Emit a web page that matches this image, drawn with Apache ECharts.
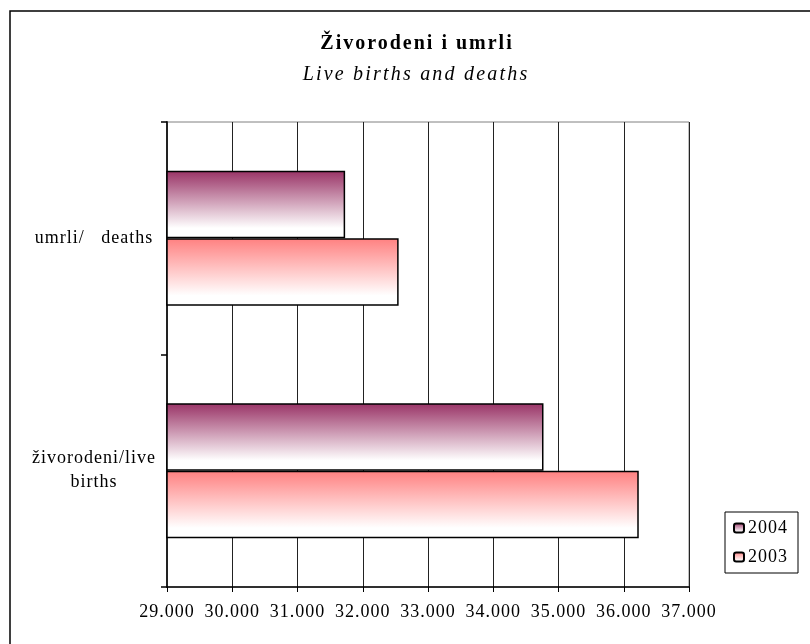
<!DOCTYPE html>
<html>
<head>
<meta charset="utf-8">
<script src="https://cdn.jsdelivr.net/npm/echarts@6/dist/echarts.min.js"></script>
<style>html,body{margin:0;padding:0;background:#fff}#c{width:810px;height:644px}</style>
</head>
<body>
<div id="c"></div>
<script>
const categories = ['živorodeni/live\nbirths', 'umrli/   deaths'];
const values2003 = [36230, 32550];
const values2004 = [34770, 31730];
const xTicksMin = 29000, xTicksMax = 37000, xTickStep = 1000;
const titleText = 'Živorodeni i umrli';
const subtitleText = 'Live births and deaths';

// letter spacing as in the reference typography
(function () {
  const proto = CanvasRenderingContext2D.prototype;
  const orig = proto.fillText;
  proto.fillText = function (t, x, y, w) {
    const f = this.font || '';
    let ls = '1px';
    if (/bold/.test(f)) ls = '2px';
    else if (/italic/.test(f)) ls = '2.2px';
    try { this.letterSpacing = ls; } catch (e) {}
    return w === undefined ? orig.call(this, t, x, y) : orig.call(this, t, x, y, w);
  };
})();

const FONT = 'Liberation Serif';
const chart = echarts.init(document.getElementById('c'));
const grad = (c) => new echarts.graphic.LinearGradient(0, 0, 0, 1, [
  { offset: 0, color: c }, { offset: 0.85, color: '#ffffff' }, { offset: 1, color: '#ffffff' }
]);
chart.setOption({
  backgroundColor: '#fff',
  animation: false,
  graphic: [
    { type: 'rect', shape: { x: 10, y: 11, width: 900, height: 900 }, style: { fill: 'none', stroke: '#000', lineWidth: 1.5 }, silent: true },
    { type: 'text', style: { text: titleText, x: 417, y: 44, textAlign: 'center', textVerticalAlign: 'middle', font: 'bold 20px "Liberation Serif"', fill: '#000' } },
    { type: 'text', style: { text: subtitleText, x: 416, y: 75, textAlign: 'center', textVerticalAlign: 'middle', font: 'italic 20px "Liberation Serif"', fill: '#000' } }
  ],
  grid: { left: 167, right: 121, top: 122, bottom: 57, show: true, borderColor: '#808080', borderWidth: 1 },
  legend: {
    data: ['2004', '2003'], orient: 'vertical', left: 725, top: 512,
    borderColor: '#000', borderWidth: 1, padding: [7, 14, 7, 8], itemWidth: 10, itemHeight: 9, itemGap: 11,
    textStyle: { fontFamily: FONT, fontSize: 18, color: '#000', padding: [0, 0, 0, -1] }
  },
  xAxis: {
    type: 'value', min: xTicksMin, max: xTicksMax, interval: xTickStep,
    axisLine: { show: true, lineStyle: { color: '#000', width: 1.5 } },
    axisTick: { show: true, length: 5, lineStyle: { color: '#000' } },
    splitLine: { show: true, lineStyle: { color: '#222', width: 1 } },
    axisLabel: { fontFamily: FONT, fontSize: 18, color: '#000', margin: 16, formatter: v => (v / 1000).toFixed(3) }
  },
  yAxis: {
    type: 'category', data: categories,
    axisLine: { show: true, lineStyle: { color: '#222', width: 2 } },
    axisTick: { show: true, length: 6, lineStyle: { color: '#000', width: 1.5 } },
    axisLabel: { fontFamily: FONT, fontSize: 18, color: '#000', margin: 73, align: 'center', lineHeight: 24 }
  },
  series: [
    { name: '2004', type: 'bar', data: values2004, barGap: '0%', barCategoryGap: '42%',
      itemStyle: { color: grad('#993366'), borderColor: '#000', borderWidth: 1.5 } },
    { name: '2003', type: 'bar', data: values2003, barGap: '0%', barCategoryGap: '42%',
      itemStyle: { color: grad('#ff8080'), borderColor: '#000', borderWidth: 1.5 } }
  ]
});
</script>
</body>
</html>
